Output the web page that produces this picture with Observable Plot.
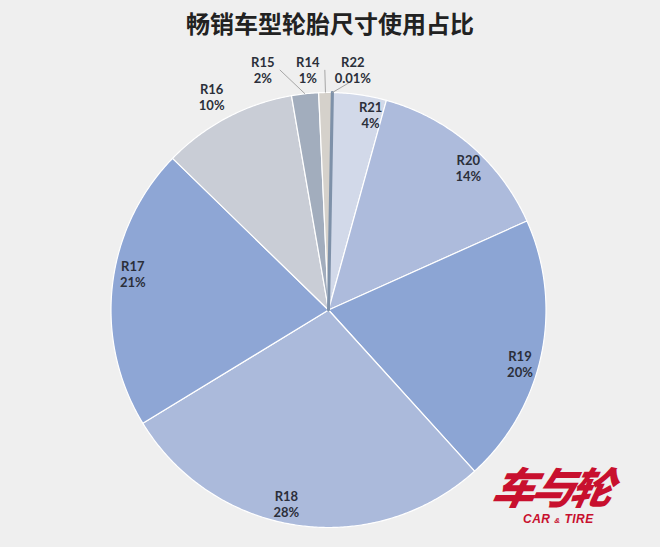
<!DOCTYPE html>
<html>
<head>
<meta charset="utf-8">
<script src="https://cdn.jsdelivr.net/npm/d3@7"></script>
<script src="https://cdn.jsdelivr.net/npm/@observablehq/plot@0.6"></script>
<style>
  html, body { margin: 0; padding: 0; background: #efefef; }
  #wrap { position: relative; width: 660px; height: 547px; overflow: hidden; }
  #title { height: 45px; line-height: 45px; text-align: center; font-family: "Noto Sans CJK SC", sans-serif; font-weight: 700; font-size: 24px; color: #222; }
  #logo { position: absolute; left: 494px; top: 464px; color: #c8102e; font-family: "Noto Sans CJK SC", sans-serif; font-weight: 900; font-style: italic; font-size: 43px; letter-spacing: -4px; transform: skewX(-12deg); line-height: 1; }
  #logo2 { position: absolute; left: 523px; top: 512px; color: #c8102e; font-family: "Liberation Sans", sans-serif; font-weight: 700; font-style: italic; font-size: 12px; letter-spacing: 0.5px; }
</style>
</head>
<body>
<div id="wrap">
  <div id="title">畅销车型轮胎尺寸使用占比</div>
  <div id="chart"></div>
  <div id="logo">车与轮</div>
  <div id="logo2">CAR <span style="font-size:8px">&amp;</span> TIRE</div>
</div>
<script>
// ---- data ----
const categories = ["R22", "R21", "R20", "R19", "R18", "R17", "R16", "R15", "R14"];
const shares = [0.01, 4, 14, 20, 28, 21, 10, 2, 1];
const shareLabels = ["0.01%", "4%", "14%", "20%", "28%", "21%", "10%", "2%", "1%"];

// ---- styling ----
const palette = ["#7e91a9", "#d2d9e9", "#adbbdc", "#8ca5d4", "#abbadb", "#8ea6d5", "#c9cdd6", "#a2adbd", "#d5d1cb"];
const outsideLabels = ["R16"];
const leaderLabels = ["R15", "R14", "R22"];
const startOffset = 1;   // degrees clockwise from 12 o'clock
const insideLabelTurn = 4; // degrees
const k = 2 / 435;       // data units per pixel

const total = d3.sum(shares);
const rad = a => a * Math.PI / 180;

// build slice polygons
const pts = [];
const slices = [];
let acc = 0;
categories.forEach((c, i) => {
  const a0 = startOffset + acc / total * 360;
  acc += shares[i];
  const a1 = startOffset + acc / total * 360;
  slices.push({cat: c, label: shareLabels[i], a0, a1, mid: (a0 + a1) / 2});
  pts.push({cat: c, x: 0, y: 0});
  const n = Math.max(2, Math.ceil((a1 - a0) / 0.5));
  for (let j = 0; j <= n; j++) {
    const a = rad(a0 + (a1 - a0) * j / n);
    pts.push({cat: c, x: Math.sin(a), y: Math.cos(a)});
  }
});

// labels
const labels = [];
const leaders = [];
slices.forEach(s => {
  if (leaderLabels.includes(s.cat)) return;
  const out = outsideLabels.includes(s.cat);
  const m = rad(s.mid + (out ? -1 : insideLabelTurn));
  const r = out ? 1.115 : 0.915;
  labels.push({cat: s.cat, pct: s.label, x: r * Math.sin(m), y: r * Math.cos(m)});
});
// small slices: spread horizontally, right to left
const smallSlices = leaderLabels.map(c => slices.find(s => s.cat === c));
const first = smallSlices[smallSlices.length - 1];
let lx = 1.12 * Math.sin(rad(first.mid)) + 20 * k;
const ly = 1.104;
for (let i = smallSlices.length - 1; i >= 0; i--) {
  const s = smallSlices[i];
  const m = rad(s.mid);
  const ex = Math.sin(m), ey = Math.cos(m);
  labels.push({cat: s.cat, pct: s.label, x: lx, y: ly});
  const leftSide = ex < lx - 12 * k;
  leaders.push({
    x1: ex, y1: ey,
    x2: ex > lx + 12 * k ? lx + 17 * k : (leftSide ? lx - 4 * k : lx + 6 * k),
    y2: ex > lx + 12 * k ? ly : ly - 13 * k
  });
  lx -= 45 * k;
}

const textStyle = {fontSize: 13, fontWeight: 700, fill: "#2b2f3a", fontFamily: "Lato, 'Open Sans', sans-serif"};

const chart = Plot.plot({
  width: 660,
  height: 502,
  margin: 0,
  style: {background: "transparent"},
  x: {domain: [-1, 1], range: [110.5, 545.5], axis: null},
  y: {domain: [-1, 1], range: [482, 47], axis: null},
  color: {domain: categories, range: palette},
  marks: [
    Plot.line(pts, {x: "x", y: "y", z: "cat", fill: "cat", stroke: "white", strokeWidth: 1.2, curve: "linear-closed"}),
    Plot.line(pts.filter(d => d.cat === "R22"), {x: "x", y: "y", fill: "#7e91a9", stroke: "#7e91a9", strokeWidth: 3, curve: "linear-closed"}),
    Plot.link(leaders, {x1: "x1", y1: "y1", x2: "x2", y2: "y2", stroke: "#a6a6a6", strokeWidth: 1}),
    Plot.text(labels, {x: "x", y: "y", text: "cat", dy: -7.5, ...textStyle}),
    Plot.text(labels, {x: "x", y: "y", text: "pct", dy: 8.5, ...textStyle})
  ]
});
document.getElementById("chart").appendChild(chart);
</script>
</body>
</html>
